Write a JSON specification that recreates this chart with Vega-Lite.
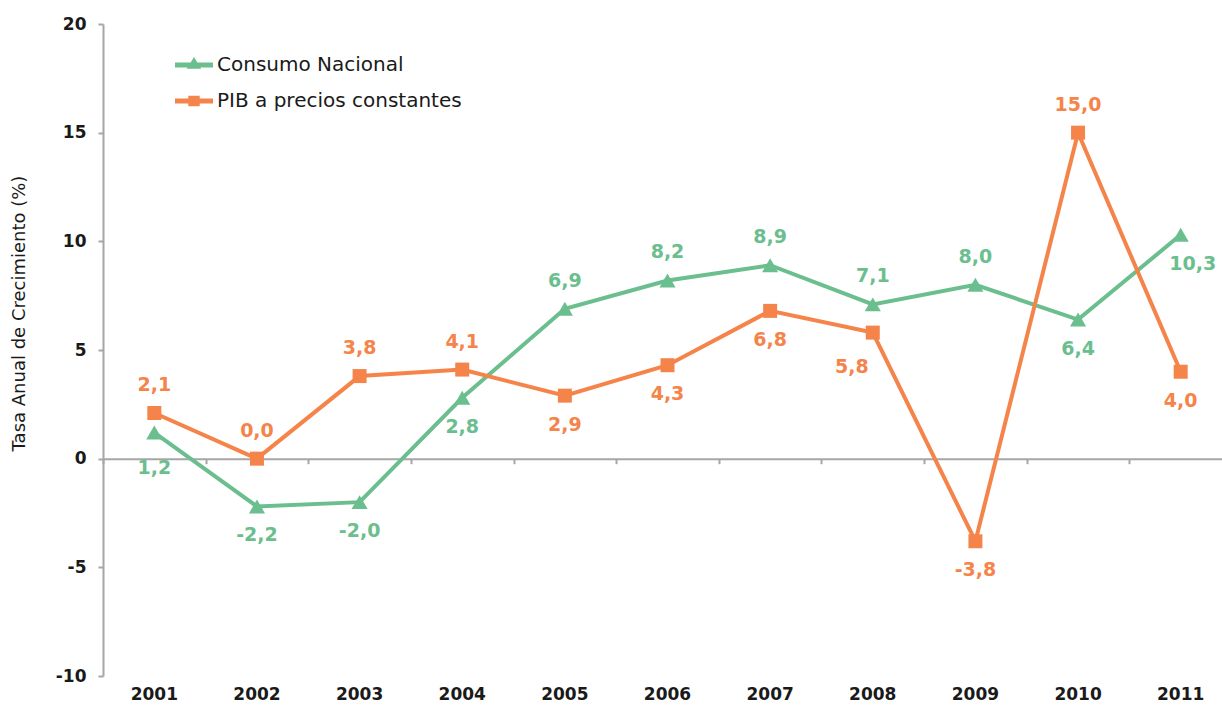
{
  "$schema": "https://vega.github.io/schema/vega-lite/v6.json",
  "width": 1119,
  "height": 652,
  "autosize": {"type": "none"},
  "padding": {"left": 103, "top": 24, "right": 0, "bottom": 33},
  "background": "white",
  "config": {
    "view": {"stroke": null},
    "locale": {"number": {"decimal": ",", "thousands": ".", "grouping": [3], "currency": ["", " €"], "minus": "-"}},
    "font": "DejaVu Sans"
  },
  "data": {
    "values": [
      {"year": "2001", "series": "Consumo Nacional", "value": 1.2},
      {"year": "2002", "series": "Consumo Nacional", "value": -2.2},
      {"year": "2003", "series": "Consumo Nacional", "value": -2.0},
      {"year": "2004", "series": "Consumo Nacional", "value": 2.8},
      {"year": "2005", "series": "Consumo Nacional", "value": 6.9},
      {"year": "2006", "series": "Consumo Nacional", "value": 8.2},
      {"year": "2007", "series": "Consumo Nacional", "value": 8.9},
      {"year": "2008", "series": "Consumo Nacional", "value": 7.1},
      {"year": "2009", "series": "Consumo Nacional", "value": 8.0},
      {"year": "2010", "series": "Consumo Nacional", "value": 6.4},
      {"year": "2011", "series": "Consumo Nacional", "value": 10.3},
      {"year": "2001", "series": "PIB a precios constantes", "value": 2.1},
      {"year": "2002", "series": "PIB a precios constantes", "value": 0.0},
      {"year": "2003", "series": "PIB a precios constantes", "value": 3.8},
      {"year": "2004", "series": "PIB a precios constantes", "value": 4.1},
      {"year": "2005", "series": "PIB a precios constantes", "value": 2.9},
      {"year": "2006", "series": "PIB a precios constantes", "value": 4.3},
      {"year": "2007", "series": "PIB a precios constantes", "value": 6.8},
      {"year": "2008", "series": "PIB a precios constantes", "value": 5.8},
      {"year": "2009", "series": "PIB a precios constantes", "value": -3.8},
      {"year": "2010", "series": "PIB a precios constantes", "value": 15.0},
      {"year": "2011", "series": "PIB a precios constantes", "value": 4.0}
    ]
  },
  "encoding": {
    "y": {
      "field": "value",
      "type": "quantitative",
      "title": "Tasa Anual de Crecimiento (%)",
      "scale": {"domain": [-10, 20], "nice": false, "zero": false},
      "axis": {
        "values": [-10, -5, 0, 5, 10, 15, 20],
        "format": "d",
        "grid": false,
        "domainColor": "#A6A6A6",
        "domainWidth": 2,
        "tickColor": "#A6A6A6",
        "tickWidth": 2,
        "tickSize": 5,
        "labelPadding": 12,
        "labelFont": "DejaVu Sans",
        "labelFontSize": 17,
        "labelFontWeight": "bold",
        "labelColor": "#1a1a1a",
        "titleFont": "DejaVu Sans",
        "titleFontSize": 18,
        "titleFontWeight": "normal",
        "titleColor": "#1a1a1a",
        "titlePadding": 27,
        "titleY": 289
      }
    }
  },
  "resolve": {"axis": {"x": "independent"}, "legend": {"color": "independent", "shape": "independent"}},
  "layer": [
    {
      "mark": {"type": "line", "strokeWidth": 4},
      "encoding": {
        "x": {
          "field": "year",
          "type": "ordinal",
          "bandPosition": 0.5,
          "scale": {"type": "band", "range": [0, 1129], "paddingInner": 0, "paddingOuter": 0},
          "axis": {
            "title": null,
            "orient": "bottom",
            "domain": false,
            "ticks": false,
            "labelAngle": 0,
            "labelPadding": 10,
            "labelFont": "DejaVu Sans",
            "labelFontSize": 17,
            "labelFontWeight": "bold",
            "labelColor": "#1a1a1a"
          }
        },
        "color": {
          "field": "series",
          "type": "nominal",
          "scale": {"domain": ["Consumo Nacional", "PIB a precios constantes"], "range": ["#6BBE8E", "#F5844A"]},
          "legend": null
        }
      }
    },
    {
      "transform": [{"filter": "datum.series == 'Consumo Nacional'"}],
      "mark": {"type": "point", "shape": "triangle-up", "filled": true, "opacity": 1, "size": 260},
      "encoding": {
        "x": {"field": "year", "type": "ordinal", "bandPosition": 0.5, "axis": null},
        "color": {"field": "series", "type": "nominal", "legend": null}
      }
    },
    {
      "transform": [{"filter": "datum.series == 'PIB a precios constantes'"}],
      "mark": {"type": "point", "shape": "square", "filled": true, "opacity": 1, "size": 196},
      "encoding": {
        "x": {"field": "year", "type": "ordinal", "bandPosition": 0.5, "axis": null},
        "color": {"field": "series", "type": "nominal", "legend": null}
      }
    },
    {
      "transform": [{"filter": "(datum.series == 'Consumo Nacional' && indexof(['2005','2006','2007','2008','2009'], datum.year) >= 0) || (datum.series == 'PIB a precios constantes' && indexof(['2001','2002','2003','2004','2010'], datum.year) >= 0)"}],
      "mark": {"type": "text", "dy": -28, "baseline": "middle", "align": "center", "font": "DejaVu Sans", "fontSize": 19, "fontWeight": "bold"},
      "encoding": {
        "x": {"field": "year", "type": "ordinal", "bandPosition": 0.5, "axis": null},
        "text": {"field": "value", "type": "quantitative", "format": ".1f"},
        "color": {"field": "series", "type": "nominal", "legend": null}
      }
    },
    {
      "transform": [{"filter": "(datum.series == 'Consumo Nacional' && indexof(['2002','2003','2004','2010'], datum.year) >= 0) || (datum.series == 'PIB a precios constantes' && indexof(['2005','2006','2007','2009','2011'], datum.year) >= 0)"}],
      "mark": {"type": "text", "dy": 29, "baseline": "middle", "align": "center", "font": "DejaVu Sans", "fontSize": 19, "fontWeight": "bold"},
      "encoding": {
        "x": {"field": "year", "type": "ordinal", "bandPosition": 0.5, "axis": null},
        "text": {"field": "value", "type": "quantitative", "format": ".1f"},
        "color": {"field": "series", "type": "nominal", "legend": null}
      }
    },
    {
      "transform": [{"filter": "datum.series == 'Consumo Nacional' && datum.year == '2001'"}],
      "mark": {"type": "text", "dy": 35, "baseline": "middle", "align": "center", "font": "DejaVu Sans", "fontSize": 19, "fontWeight": "bold"},
      "encoding": {
        "x": {"field": "year", "type": "ordinal", "bandPosition": 0.5, "axis": null},
        "text": {"field": "value", "type": "quantitative", "format": ".1f"},
        "color": {"field": "series", "type": "nominal", "legend": null}
      }
    },
    {
      "transform": [{"filter": "datum.series == 'PIB a precios constantes' && datum.year == '2008'"}],
      "mark": {"type": "text", "dy": 34, "dx": -21, "baseline": "middle", "align": "center", "font": "DejaVu Sans", "fontSize": 19, "fontWeight": "bold"},
      "encoding": {
        "x": {"field": "year", "type": "ordinal", "bandPosition": 0.5, "axis": null},
        "text": {"field": "value", "type": "quantitative", "format": ".1f"},
        "color": {"field": "series", "type": "nominal", "legend": null}
      }
    },
    {
      "transform": [{"filter": "datum.series == 'Consumo Nacional' && datum.year == '2011'"}],
      "mark": {"type": "text", "dy": 29, "dx": 12, "baseline": "middle", "align": "center", "font": "DejaVu Sans", "fontSize": 19, "fontWeight": "bold"},
      "encoding": {
        "x": {"field": "year", "type": "ordinal", "bandPosition": 0.5, "axis": null},
        "text": {"field": "value", "type": "quantitative", "format": ".1f"},
        "color": {"field": "series", "type": "nominal", "legend": null}
      }
    },
    {
      "mark": {"type": "point", "filled": true, "opacity": 0},
      "encoding": {
        "x": {
          "field": "year",
          "type": "ordinal",
          "bandPosition": 0.5,
          "axis": {
            "title": null,
            "orient": "bottom",
            "offset": -217.3,
            "labels": false,
            "domain": true,
            "domainColor": "#A6A6A6",
            "domainWidth": 2,
            "ticks": true,
            "tickBand": "extent",
            "tickColor": "#A6A6A6",
            "tickWidth": 2,
            "tickSize": 5
          }
        },
        "color": {
          "field": "series",
          "type": "nominal",
          "legend": {
            "title": null,
            "orient": "none",
            "legendX": 72,
            "legendY": 22,
            "padding": 0,
            "symbolSize": 1444,
            "symbolOpacity": 1,
            "symbolStrokeWidth": 0,
            "rowPadding": 7,
            "labelOffset": 4,
            "labelFont": "DejaVu Sans",
            "labelFontSize": 20,
            "labelColor": "#1a1a1a",
            "labelLimit": 400,
            "encode": {"symbols": {"update": {"opacity": {"value": 1}}}}
          }
        },
        "shape": {
          "field": "series",
          "type": "nominal",
          "scale": {"domain": ["Consumo Nacional", "PIB a precios constantes"], "range": ["M-1,-0.13L1,-0.13L1,0.13L-1,0.13Z M0,-0.42L0.38,0.2L-0.38,0.2Z", "M-1,-0.13L1,-0.13L1,0.13L-1,0.13Z M-0.3,-0.28L0.3,-0.28L0.3,0.28L-0.3,0.28Z"]},
          "legend": {
            "title": null,
            "orient": "none",
            "legendX": 72,
            "legendY": 22,
            "padding": 0,
            "symbolSize": 1444,
            "symbolOpacity": 1,
            "symbolStrokeWidth": 0,
            "rowPadding": 7,
            "labelOffset": 4,
            "labelFont": "DejaVu Sans",
            "labelFontSize": 20,
            "labelColor": "#1a1a1a",
            "labelLimit": 400,
            "encode": {"symbols": {"update": {"opacity": {"value": 1}}}}
          }
        }
      }
    }
  ]
}
